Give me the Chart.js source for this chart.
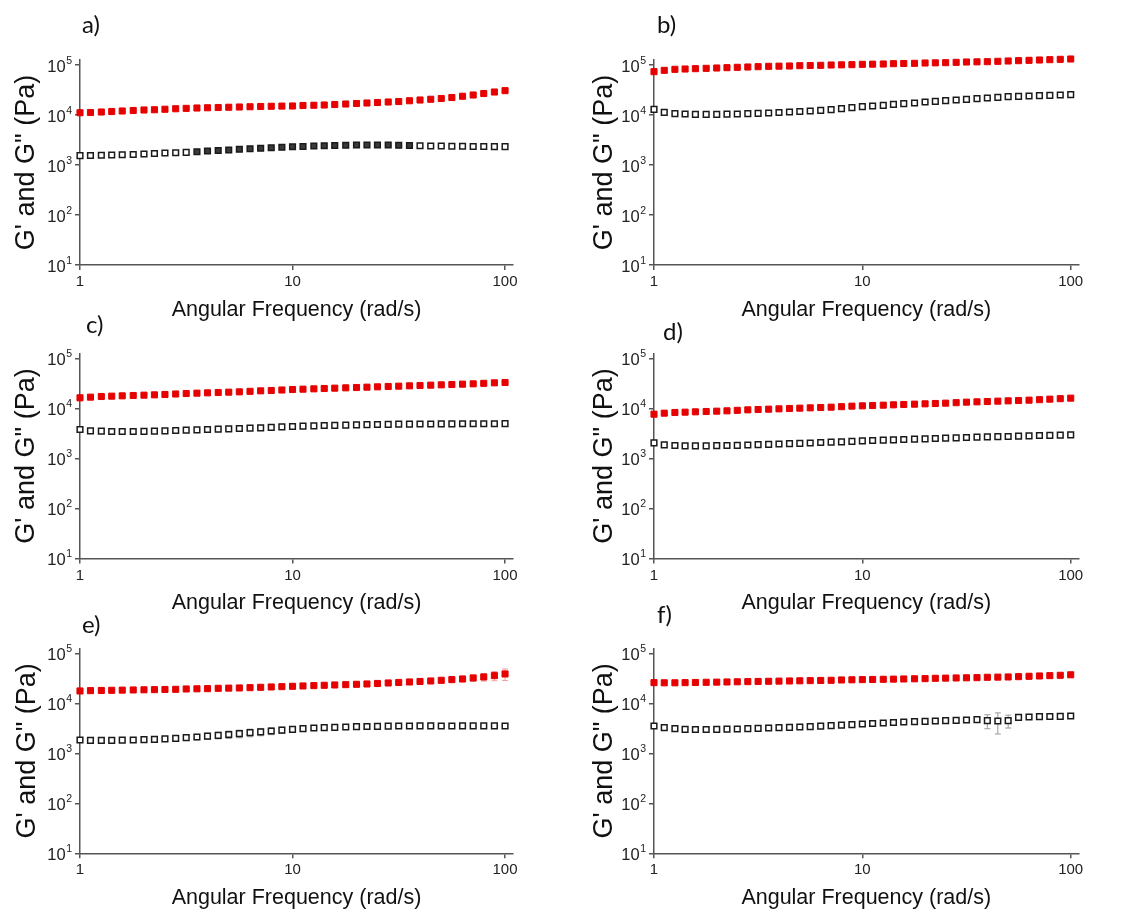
<!DOCTYPE html>
<html>
<head>
<meta charset="utf-8">
<title>G' and G'' versus angular frequency</title>
<script src="https://cdn.jsdelivr.net/npm/chart.js@4.4.1/dist/chart.umd.min.js"></script>
<style>
  html, body { margin: 0; padding: 0; background: #fff; width: 1136px; height: 912px; overflow: hidden; }
  canvas { position: absolute; }
</style>
</head>
<body>
<canvas id="pa"></canvas>
<canvas id="pb"></canvas>
<canvas id="pc"></canvas>
<canvas id="pd"></canvas>
<canvas id="pe"></canvas>
<canvas id="pf"></canvas>
<script>
// Frequency sweep (rad/s), shared by all six samples
const freq = [1, 1.12, 1.26, 1.41, 1.58, 1.78, 2, 2.24, 2.51, 2.82, 3.16, 3.55, 3.98, 4.47, 5.01, 5.62, 6.31, 7.08, 7.94, 8.91,
  10, 11.2, 12.6, 14.1, 15.8, 17.8, 20, 22.4, 25.1, 28.2, 31.6, 35.5, 39.8, 44.7, 50.1, 56.2, 63.1, 70.8, 79.4, 89.1, 100];

const xTicks = [1, 10, 100];
const yTicks = [10, 100, 1000, 10000, 100000];
const xTitle = 'Angular Frequency (rad/s)';
const yTitle = 'G\' and G" (Pa)';

// Storage modulus G' (Pa)
const storageA = [11100, 11220, 11480, 11750, 12020, 12300, 12590, 12740, 13030, 13340, 13580, 13800, 13960, 14130, 14290, 14450, 14620, 14790, 14960, 15070,
  15140, 15490, 15670, 15850, 16220, 16600, 16980, 17380, 17780, 18200, 18620, 19280, 19950, 20650, 21380, 22390, 23710, 25120, 26920, 28840, 30690];
const storageB = [73560, 78250, 81930, 83180, 84470, 85770, 87100, 88450, 89830, 91200, 92620, 94040, 94770, 95500, 96980, 97720, 98480, 100000, 100770, 101550,
  103120, 103920, 104710, 106330, 107150, 107980, 109650, 110490, 111340, 113060, 114820, 115700, 116590, 118400, 120230, 122090, 123970, 125890, 127840, 129820, 131830];
const storageC = [16350, 16860, 17380, 17650, 17920, 18200, 18480, 18760, 19050, 19500, 19950, 20260, 20570, 20890, 21210, 21540, 22050, 22560, 22910, 23440,
  23990, 24360, 24740, 25120, 25510, 25910, 26300, 26710, 27130, 27540, 27970, 28410, 28840, 29290, 29750, 30200, 30670, 31150, 31870, 32610, 33110];
const storageD = [7703, 8066, 8318, 8447, 8577, 8710, 8845, 8983, 9191, 9404, 9550, 9698, 9848, 10000, 10150, 10310, 10470, 10630, 10880, 11140,
  11310, 11480, 11660, 11840, 12020, 12210, 12400, 12590, 12790, 13080, 13390, 13590, 13800, 14020, 14230, 14450, 14680, 15020, 15370, 15730, 16100];
const storageE = [17650, 17920, 18060, 18200, 18340, 18480, 18620, 18760, 18910, 19050, 19350, 19500, 19650, 19950, 20110, 20260, 20570, 20890, 21210, 21540,
  21880, 22220, 22560, 22910, 23260, 23620, 23990, 24360, 24930, 25510, 26100, 26710, 27330, 27970, 28840, 29750, 30670, 32120, 33630, 35750, 38620];
const storageF = [25910, 25700, 25700, 25910, 26100, 26300, 26500, 26710, 26920, 27130, 27330, 27540, 27760, 27970, 28180, 28410, 28620, 28840, 29290, 29510,
  29750, 29970, 30200, 30430, 30670, 30900, 31150, 31620, 31870, 32120, 32360, 32610, 33110, 33370, 33630, 34150, 34670, 35210, 35750, 36310, 37150];

// Loss modulus G'' (Pa)
const lossA = [1538, 1549, 1567, 1585, 1603, 1622, 1660, 1698, 1738, 1758, 1791, 1841, 1905, 1950, 1995, 2065, 2113, 2163, 2213, 2265,
  2317, 2344, 2399, 2427, 2455, 2483, 2512, 2512, 2512, 2512, 2483, 2455, 2427, 2399, 2399, 2371, 2371, 2344, 2344, 2333, 2328];
const lossB = [12980, 11310, 10630, 10470, 10310, 10310, 10310, 10390, 10470, 10630, 10800, 10960, 11220, 11480, 11750, 12020, 12400, 12790, 13390, 14020,
  14680, 15140, 15610, 16350, 16860, 17380, 18200, 18760, 19350, 19950, 20570, 21210, 21880, 22560, 23260, 23620, 23990, 24360, 24740, 25120, 25510];
const lossC = [3802, 3575, 3521, 3467, 3467, 3467, 3494, 3521, 3575, 3631, 3687, 3744, 3802, 3861, 3921, 3981, 4043, 4105, 4201, 4299,
  4365, 4433, 4501, 4571, 4606, 4642, 4713, 4750, 4786, 4823, 4860, 4860, 4898, 4898, 4935, 4940, 4950, 4950, 4960, 4960, 4970];
const lossD = [2057, 1876, 1820, 1792, 1792, 1792, 1806, 1820, 1834, 1862, 1891, 1920, 1950, 1980, 2011, 2042, 2089, 2122, 2154, 2205,
  2256, 2291, 2326, 2362, 2399, 2436, 2474, 2512, 2551, 2590, 2630, 2671, 2712, 2733, 2754, 2797, 2840, 2884, 2906, 2929, 2974];
const lossE = [1848, 1820, 1820, 1820, 1834, 1848, 1876, 1905, 1950, 1995, 2057, 2122, 2205, 2291, 2381, 2474, 2590, 2692, 2797, 2906,
  3020, 3114, 3211, 3261, 3311, 3362, 3415, 3441, 3467, 3494, 3521, 3521, 3530, 3530, 3521, 3521, 3530, 3530, 3540, 3530, 3521];
const lossF = [3521, 3261, 3114, 3020, 2997, 2997, 3020, 3043, 3067, 3114, 3162, 3211, 3261, 3311, 3362, 3415, 3494, 3575, 3658, 3744,
  3861, 3951, 4043, 4137, 4233, 4299, 4365, 4433, 4501, 4571, 4642, 4713, 4501, 4433, 4501, 5248, 5330, 5412, 5454, 5495, 5581];

// Standard deviations (Pa)
const storageErrC = [900, 900, 950, 950, 1000, 1000, 1000, 1050, 1050, 1100, 1100, 1100, 1150, 1150, 1200, 1200, 1250, 1250, 1300, 1300,
  1350, 1350, 1400, 1400, 1450, 1450, 1500, 1500, 1550, 1550, 1600, 1600, 1650, 1650, 1700, 1700, 1750, 1750, 1800, 1850, 1900];
const storageErrE = [500, 500, 500, 500, 500, 500, 500, 500, 600, 600, 600, 600, 600, 700, 700, 700, 700, 800, 800, 800,
  900, 900, 1000, 1000, 1100, 1100, 1200, 1300, 1400, 1500, 1600, 1800, 2000, 2300, 2700, 3200, 3800, 4600, 5800, 7500, 10000];
const lossErrE = [60, 60, 60, 70, 80, 90, 100, 120, 150, 180, 220, 260, 300, 350, 400, 430, 450, 450, 440, 420,
  400, 370, 340, 300, 260, 230, 200, 180, 160, 150, 150, 140, 140, 140, 140, 140, 140, 140, 140, 140, 140];
const storageErrF = [1500, 1500, 1500, 1500, 1600, 1600, 1600, 1600, 1700, 1700, 1700, 1700, 1800, 1800, 1800, 1800, 1900, 1900, 1900, 1900,
  2000, 2000, 2000, 2000, 2100, 2100, 2100, 2100, 2200, 2200, 2200, 2200, 2300, 2300, 2300, 2300, 2400, 2400, 2500, 2500, 2600];
const lossErrF = [200, 200, 200, 200, 200, 200, 200, 210, 210, 220, 220, 230, 230, 240, 240, 250, 250, 260, 260, 270,
  270, 280, 280, 290, 290, 300, 300, 310, 320, 330, 340, 350, 1400, 2000, 1300, 400, 400, 400, 420, 420, 450];

const panelLabels = ['a)', 'b)', 'c)', 'd)', 'e)', 'f)'];

// ---- styling / layout ----
const FONT = '"Liberation Sans", Arial, Helvetica, sans-serif';
const LABEL_FONT = 'Lato, "Open Sans", sans-serif';
const AXIS_COLOR = '#555';
const RED = '#e60000';
const X_MAX = 109;      // axis line runs slightly past 100
const Y_MAX = 125900;   // axis line runs slightly past 10^5
const X_TITLE_SIZE = 21.5;
const Y_TITLE_SIZE = 27;
const TITLE_PAD = 4;

const layouts = [
  { id: 'pa', L: 0,   T: 0,   W: 540, axisL: 80,  axisR: 513,    top: 60,    bottom: 265,   titleX: 27,  titleY: 310, lx: 82,  ly: 25 },
  { id: 'pb', L: 560, T: 0,   W: 576, axisL: 654, axisR: 1078.5, top: 60,    bottom: 265,   titleX: 605, titleY: 310, lx: 657, ly: 25 },
  { id: 'pc', L: 0,   T: 300, W: 540, axisL: 80,  axisR: 513,    top: 353.5, bottom: 558.5, titleX: 27,  titleY: 603, lx: 86,  ly: 325 },
  { id: 'pd', L: 560, T: 300, W: 576, axisL: 654, axisR: 1078.5, top: 353.5, bottom: 558.5, titleX: 605, titleY: 603, lx: 663, ly: 332 },
  { id: 'pe', L: 0,   T: 600, W: 540, axisL: 80,  axisR: 513,    top: 648.3, bottom: 853.3, titleX: 28,  titleY: 898, lx: 82,  ly: 625 },
  { id: 'pf', L: 560, T: 600, W: 576, axisL: 654, axisR: 1078.5, top: 648.3, bottom: 853.3, titleX: 605, titleY: 898, lx: 657, ly: 615 }
];

const series = [
  { storage: storageA, loss: lossA, storageErr: null,        lossErr: null,      filled: [11, 31] },
  { storage: storageB, loss: lossB, storageErr: null,        lossErr: null,      filled: null },
  { storage: storageC, loss: lossC, storageErr: storageErrC, lossErr: null,      filled: null },
  { storage: storageD, loss: lossD, storageErr: null,        lossErr: null,      filled: null },
  { storage: storageE, loss: lossE, storageErr: storageErrE, lossErr: lossErrE,  filled: null },
  { storage: storageF, loss: lossF, storageErr: storageErrF, lossErr: lossErrF,  filled: null }
];

// Error bars behind the markers, 10^n tick labels and the panel letter
const panelDecor = {
  id: 'panelDecor',
  beforeDatasetsDraw(chart) {
    const { ctx } = chart;
    const xs = chart.scales.x, ys = chart.scales.y;
    chart.data.datasets.forEach(ds => {
      if (!ds.yErr) return;
      ctx.save();
      ctx.strokeStyle = ds.errColor;
      ctx.lineWidth = 1;
      ds.data.forEach((p, i) => {
        const e = ds.yErr[i];
        const px = xs.getPixelForValue(p.x);
        const yHi = ys.getPixelForValue(p.y + e);
        const yLo = ys.getPixelForValue(Math.max(p.y - e, 1));
        ctx.beginPath();
        ctx.moveTo(px, yHi); ctx.lineTo(px, yLo);
        ctx.moveTo(px - 3, yHi); ctx.lineTo(px + 3, yHi);
        ctx.moveTo(px - 3, yLo); ctx.lineTo(px + 3, yLo);
        ctx.stroke();
      });
      ctx.restore();
    });
  },
  afterDraw(chart, args, opts) {
    const { ctx, chartArea } = chart;
    const ys = chart.scales.y;
    ctx.save();
    ctx.fillStyle = '#222';
    const right = chartArea.left - 8;
    yTicks.forEach(v => {
      const py = ys.getPixelForValue(v);
      const exp = String(Math.round(Math.log10(v)));
      ctx.font = '10.5px ' + FONT;
      const sw = ctx.measureText(exp).width;
      ctx.textBaseline = 'middle';
      ctx.textAlign = 'left';
      ctx.fillText(exp, right - sw, py - 4);
      ctx.font = '16.5px ' + FONT;
      ctx.textAlign = 'right';
      ctx.fillText('10', right - sw - 0.5, py + 2);
    });
    ctx.font = '24px ' + LABEL_FONT;
    ctx.fillStyle = '#111';
    ctx.textAlign = 'left';
    ctx.textBaseline = 'middle';
    ctx.fillText(opts.label, opts.lx, opts.ly);
    ctx.restore();
  }
};

function buildPanel(g, s, label) {
  const yTitleOffset = Y_TITLE_SIZE * 1.2 / 2 + TITLE_PAD;
  const xTitleOffset = X_TITLE_SIZE * 1.2 / 2 + TITLE_PAD;
  const H = Math.ceil(g.titleY + xTitleOffset - g.T);

  const canvas = document.getElementById(g.id);
  canvas.width = g.W; canvas.height = H;
  canvas.style.left = g.L + 'px'; canvas.style.top = g.T + 'px';
  canvas.style.width = g.W + 'px'; canvas.style.height = H + 'px';

  const padLeft = g.titleX - yTitleOffset - g.L;
  const padTop = g.top - g.T;
  const padRight = g.L + g.W - g.axisR;
  const padBottom = H - (g.titleY + xTitleOffset - g.T);
  const yWidth = g.axisL - g.L - padLeft;
  const xHeight = g.T + H - padBottom - g.bottom;

  const grid = { display: true, drawOnChartArea: false, drawTicks: true, tickLength: 5, color: AXIS_COLOR, lineWidth: 1.5 };
  const border = { display: true, color: AXIS_COLOR, width: 1.5 };

  const lossFill = s.filled
    ? (c => (c.dataIndex >= s.filled[0] && c.dataIndex <= s.filled[1]) ? '#3a3a3a' : '#ffffff')
    : '#ffffff';

  new Chart(canvas, {
    type: 'scatter',
    data: {
      datasets: [
        {
          label: "G''",
          data: freq.map((x, i) => ({ x, y: s.loss[i] })),
          pointStyle: 'rect', pointRadius: 4, borderWidth: 1.5,
          borderColor: '#1a1a1a', backgroundColor: lossFill,
          yErr: s.lossErr, errColor: '#9a9a9a', clip: false
        },
        {
          label: "G'",
          data: freq.map((x, i) => ({ x, y: s.storage[i] })),
          pointStyle: 'rect', pointRadius: 4.3, borderWidth: 1,
          borderColor: RED, backgroundColor: RED,
          yErr: s.storageErr, errColor: '#f0a0a0', clip: false
        }
      ]
    },
    options: {
      responsive: false,
      animation: false,
      devicePixelRatio: 1,
      events: [],
      layout: { autoPadding: false, padding: { left: padLeft, top: padTop, right: padRight, bottom: padBottom } },
      plugins: {
        legend: { display: false },
        tooltip: { enabled: false },
        panelDecor: { label, lx: g.lx - g.L, ly: g.ly - g.T }
      },
      scales: {
        x: {
          type: 'logarithmic', min: 1, max: X_MAX,
          afterBuildTicks: sc => { sc.ticks = xTicks.map(v => ({ value: v })); },
          afterFit: sc => { sc.height = xHeight; },
          ticks: { callback: v => String(v), font: { family: FONT, size: 15 }, color: '#222', padding: 3, maxRotation: 0, autoSkip: false },
          grid, border,
          title: { display: true, text: xTitle, font: { family: FONT, size: X_TITLE_SIZE }, color: '#111', padding: { top: TITLE_PAD, bottom: TITLE_PAD } }
        },
        y: {
          type: 'logarithmic', min: 10, max: Y_MAX,
          afterBuildTicks: sc => { sc.ticks = yTicks.map(v => ({ value: v })); },
          afterFit: sc => { sc.width = yWidth; },
          ticks: { display: false },
          grid, border,
          title: { display: true, text: yTitle, font: { family: FONT, size: Y_TITLE_SIZE }, color: '#111', padding: { top: TITLE_PAD, bottom: TITLE_PAD } }
        }
      }
    },
    plugins: [panelDecor]
  });
}

layouts.forEach((g, i) => buildPanel(g, series[i], panelLabels[i]));
</script>
</body>
</html>
